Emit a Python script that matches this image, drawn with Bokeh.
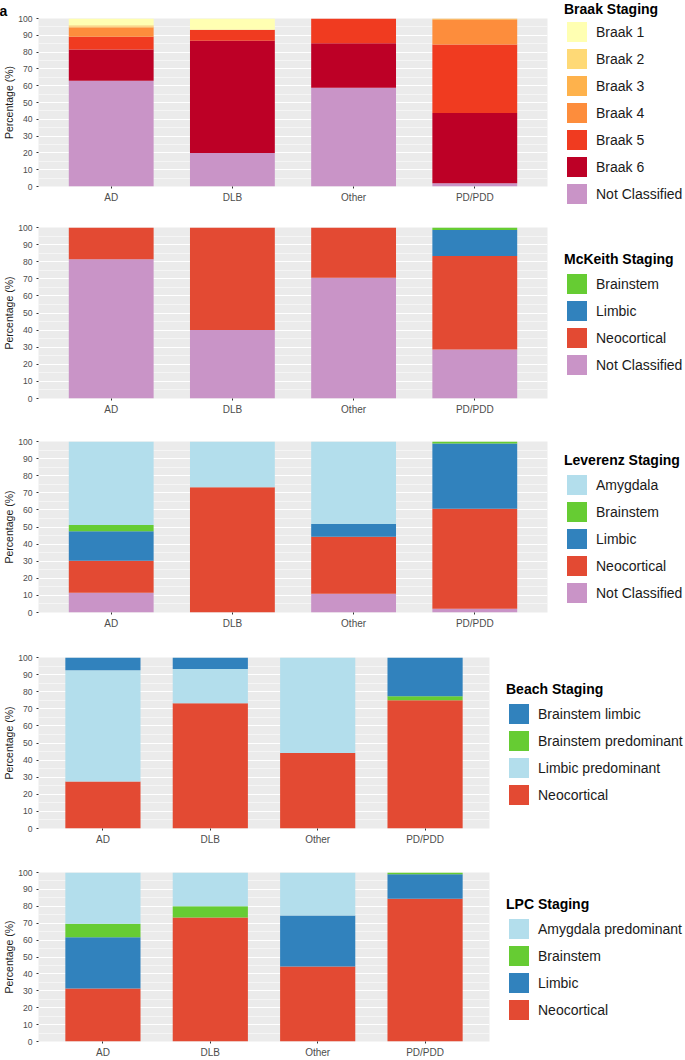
from bokeh.plotting import figure
from bokeh.layouts import column, row
from bokeh.models import (Range1d, FixedTicker, Legend, LegendItem,
                          ColumnDataSource, Title)
from bokeh.embed import file_html
from bokeh.resources import INLINE

FONT = "Liberation Sans"

categories = ["AD", "DLB", "Other", "PD/PDD"]
x_pos = [1, 2, 3, 4]

# ---- Braak staging (stack bottom -> top) ----
braak_not_classified = [63.0, 20.0, 58.8, 2.0]
braak_6 = [18.5, 66.7, 26.5, 41.7]
braak_5 = [7.7, 6.6, 14.7, 40.8]
braak_4 = [5.4, 0.0, 0.0, 14.7]
braak_3 = [0.7, 0.0, 0.0, 0.8]
braak_2 = [0.7, 0.0, 0.0, 0.0]
braak_1 = [4.0, 6.7, 0.0, 0.0]

# ---- McKeith staging ----
mck_not_classified = [81.4, 40.0, 70.6, 28.6]
mck_neocortical = [18.6, 60.0, 29.4, 54.8]
mck_limbic = [0.0, 0.0, 0.0, 15.2]
mck_brainstem = [0.0, 0.0, 0.0, 1.4]

# ---- Leverenz staging ----
lev_not_classified = [11.6, 0.0, 10.9, 2.2]
lev_neocortical = [18.6, 73.3, 33.4, 58.4]
lev_limbic = [17.3, 0.0, 7.4, 38.2]
lev_brainstem = [3.7, 0.0, 0.0, 1.2]
lev_amygdala = [48.8, 26.7, 48.3, 0.0]

# ---- Beach staging ----
beach_neocortical = [27.5, 73.3, 44.2, 75.0]
beach_limbic_pred = [65.0, 20.0, 55.8, 0.0]
beach_brainstem_pred = [0.0, 0.0, 0.0, 2.3]
beach_brainstem_limbic = [7.5, 6.7, 0.0, 22.7]

# ---- LPC staging ----
lpc_neocortical = [31.4, 73.3, 44.4, 84.4]
lpc_limbic = [30.3, 0.0, 30.2, 14.6]
lpc_brainstem = [8.0, 6.7, 0.0, 1.0]
lpc_amygdala = [30.3, 20.0, 25.4, 0.0]

C_NC = "#C994C7"
C_NEO = "#E34A33"
C_LIM = "#3182BD"
C_BST = "#66CC33"
C_AMY = "#B3DEEC"

TOTAL_W = 685
LEFT = 38
GH, SP, TITLE_H = 25, 2, 16


def make_panel(title, names, labels, series, colors, plot_w, top, frame_h,
               bottom, keys_top, title_sd=4, tag=None):
    H = top + frame_h + bottom
    data = {"x": x_pos}
    for n, s in zip(names, series):
        data[n] = s
    src = ColumnDataSource(data)
    p = figure(width=plot_w, height=H,
               x_range=Range1d(0.4, 4.6), y_range=Range1d(0, 100),
               output_backend="svg", toolbar_location=None,
               min_border_left=LEFT, min_border_right=9,
               min_border_top=top, min_border_bottom=bottom)
    p.background_fill_color = "#EBEBEB"
    p.border_fill_color = "white"
    p.outline_line_color = None

    p.vbar_stack(names, x="x", width=0.7, source=src,
                 fill_color=colors, line_color=None)

    p.xaxis.ticker = FixedTicker(ticks=x_pos)
    p.xaxis.major_label_overrides = {i: c for i, c in zip(x_pos, categories)}
    p.xaxis.major_label_text_font = FONT
    p.xaxis.major_label_text_font_size = "10px"
    p.xaxis.major_label_text_color = "#4D4D4D"
    p.xaxis.major_label_standoff = 3
    p.xaxis.axis_line_color = None
    p.xaxis.major_tick_out = 2
    p.xaxis.major_tick_in = 0
    p.xaxis.major_tick_line_color = "#333333"
    p.xaxis.minor_tick_line_color = None

    p.yaxis.ticker = FixedTicker(ticks=list(range(0, 101, 10)),
                                 minor_ticks=list(range(5, 100, 10)))
    p.yaxis.major_label_text_font = FONT
    p.yaxis.major_label_text_font_size = "8.6px"
    p.yaxis.major_label_text_color = "#4D4D4D"
    p.yaxis.major_label_standoff = 2
    p.yaxis.axis_line_color = None
    p.yaxis.major_tick_out = 2
    p.yaxis.major_tick_in = 0
    p.yaxis.major_tick_line_color = "#333333"
    p.yaxis.minor_tick_line_color = None
    p.yaxis.axis_label = "Percentage (%)"
    p.yaxis.axis_label_text_font = FONT
    p.yaxis.axis_label_text_font_size = "10.5px"
    p.yaxis.axis_label_text_font_style = "normal"
    p.yaxis.axis_label_text_color = "#1A1A1A"
    p.yaxis.axis_label_standoff = 0

    p.xgrid.grid_line_color = None
    p.ygrid.grid_line_color = "white"
    p.ygrid.grid_line_width = 1.1
    p.ygrid.minor_grid_line_color = "white"
    p.ygrid.minor_grid_line_width = 0.5

    if tag:
        t = Title(text=tag, text_font=FONT, text_font_size="14px",
                  text_font_style="bold", align="left", offset=-39,
                  standoff=0, text_color="black")
        p.add_layout(t, "above")

    # separate legend figure on the right
    lw = TOTAL_W - plot_w
    lg = figure(width=lw, height=H, x_range=Range1d(0, 1),
                y_range=Range1d(0, 1), x_axis_type=None, y_axis_type=None,
                output_backend="svg", toolbar_location=None,
                min_border=0, outline_line_color=None)
    lg.grid.visible = False
    try:
        lg.frame_align = False
        p.frame_align = False
    except Exception:
        pass
    rends = []
    for n, c in zip(names, colors):
        # zero-height placeholder glyphs that only feed the legend keys
        rends.append(lg.vbar(x=[0.5], top=[0], bottom=[0], width=0.1,
                             fill_color=c, line_color=None))
    items = [LegendItem(label=l, renderers=[r])
             for l, r in zip(labels[::-1], rends[::-1])]
    n = len(items)
    keys_h = n * GH + (n - 1) * SP
    legend = Legend(items=items, title=title,
                    location=(8, H - keys_top - keys_h),
                    title_text_font=FONT, title_text_font_size="14px",
                    title_text_font_style="bold", title_text_color="black",
                    title_standoff=title_sd,
                    label_text_font=FONT, label_text_font_size="14px",
                    label_text_color="#1A1A1A",
                    glyph_width=GH, glyph_height=GH, spacing=SP,
                    label_standoff=7, label_height=20,
                    padding=0, margin=0, border_line_color=None,
                    background_fill_alpha=0)
    lg.add_layout(legend)
    return row(p, lg, spacing=0)


r1 = make_panel("Braak Staging",
                ["nc", "b6", "b5", "b4", "b3", "b2", "b1"],
                ["Not Classified", "Braak 6", "Braak 5", "Braak 4",
                 "Braak 3", "Braak 2", "Braak 1"],
                [braak_not_classified, braak_6, braak_5, braak_4, braak_3,
                 braak_2, braak_1],
                [C_NC, "#BD0026", "#F03B20", "#FD8D3C", "#FEB24C",
                 "#FED976", "#FFFFB2"],
                plot_w=556, top=15, frame_h=171, bottom=20, keys_top=19,
                title_sd=2, tag="a")

r2 = make_panel("McKeith Staging",
                ["nc", "neo", "lim", "bst"],
                ["Not Classified", "Neocortical", "Limbic", "Brainstem"],
                [mck_not_classified, mck_neocortical, mck_limbic,
                 mck_brainstem],
                [C_NC, C_NEO, C_LIM, C_BST],
                plot_w=556, top=21, frame_h=171, bottom=22, keys_top=65)

r3 = make_panel("Leverenz Staging",
                ["nc", "neo", "lim", "bst", "amy"],
                ["Not Classified", "Neocortical", "Limbic", "Brainstem",
                 "Amygdala"],
                [lev_not_classified, lev_neocortical, lev_limbic,
                 lev_brainstem, lev_amygdala],
                [C_NC, C_NEO, C_LIM, C_BST, C_AMY],
                plot_w=556, top=21, frame_h=171, bottom=24, keys_top=52)

r4 = make_panel("Beach Staging",
                ["neo", "lp", "bp", "bl"],
                ["Neocortical", "Limbic predominant", "Brainstem predominant",
                 "Brainstem limbic"],
                [beach_neocortical, beach_limbic_pred, beach_brainstem_pred,
                 beach_brainstem_limbic],
                [C_NEO, C_AMY, C_BST, C_LIM],
                plot_w=498, top=21, frame_h=171, bottom=23, keys_top=65)

r5 = make_panel("LPC Staging",
                ["neo", "lim", "bst", "amy"],
                ["Neocortical", "Limbic", "Brainstem", "Amygdala predominant"],
                [lpc_neocortical, lpc_limbic, lpc_brainstem, lpc_amygdala],
                [C_NEO, C_LIM, C_BST, C_AMY],
                plot_w=498, top=21, frame_h=170, bottom=18, keys_top=65)

layout = column(r1, r2, r3, r4, r5, spacing=0)
open("out.html", "w").write(file_html(layout, INLINE))
